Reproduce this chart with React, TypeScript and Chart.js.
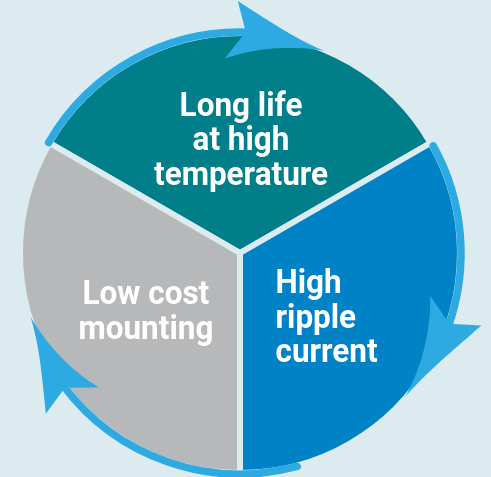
import { useEffect, useRef } from "react";
import { Chart, registerables } from "chart.js";

Chart.register(...registerables);

// ---- data ----
const categories: string[][] = [
  ["Long life", "at high", "temperature"],
  ["High", "ripple", "current"],
  ["Low cost", "mounting"],
];
const values: number[] = [1, 1, 1];
const sliceColors: string[] = ["#007e8a", "#0082c6", "#b7b8ba"];

// ---- styling ----
const BG = "#dcebef";
const RING = "#2eaae2";

// ring arcs (degrees clockwise from 12 o'clock): shaft start, arrow notch, arrow tip
const ringArcs = [
  { start: -60, notch: 1.5, tip: 22.6 },
  { start: 61, notch: 108.7, tip: 131 },
  { start: 165, notch: 232.4, tip: 253 },
];

// label blocks: polar anchor (deg clockwise from top, radius px), alignment
const labelPlacement = [
  { angle: 0.5, r: 114.5, align: "center" as const },
  { angle: 126, r: 107, align: "left" as const },
  { angle: 238.8, r: 110, align: "center" as const },
];

const toRad = (deg: number) => ((deg - 90) * Math.PI) / 180;

const decorPlugin = {
  id: "decor",
  afterDatasetsDraw(chart: any) {
    const meta = chart.getDatasetMeta(0);
    const arc0 = meta.data[0];
    if (!arc0) return;
    const cx = arc0.x;
    const cy = arc0.y;
    const R = 221;
    const ctx: CanvasRenderingContext2D = chart.ctx;
    const pt = (deg: number, r: number): [number, number] => [
      cx + r * Math.cos(toRad(deg)),
      cy + r * Math.sin(toRad(deg)),
    ];

    ctx.save();
    // ring shafts + arrowheads
    for (const a of ringArcs) {
      ctx.beginPath();
      ctx.strokeStyle = RING;
      ctx.lineWidth = 7.5;
      ctx.lineCap = "round";
      ctx.arc(cx, cy, R, toRad(a.start), toRad(a.notch + 1));
      ctx.stroke();

      const ob = a.notch - 2;
      const ib = a.notch - 6;
      const rOut = R + 31;
      const rIn = R - 26;
      const rTip = R - 2;
      ctx.beginPath();
      ctx.fillStyle = RING;
      let p = pt(ob, rOut);
      ctx.moveTo(p[0], p[1]);
      const N = 30;
      for (let i = 1; i <= N; i++) {
        const t = i / N;
        const th = ob + (a.tip - ob) * t;
        const r = rTip + (rOut - rTip) * (1 - t) * (1 - t);
        p = pt(th, r);
        ctx.lineTo(p[0], p[1]);
      }
      for (let i = N; i >= 0; i--) {
        const t = i / N;
        const th = ib + (a.tip - ib) * t;
        const r = rIn + (rTip - rIn) * t;
        p = pt(th, r);
        ctx.lineTo(p[0], p[1]);
      }
      p = pt(a.notch, R);
      ctx.lineTo(p[0], p[1]);
      ctx.closePath();
      ctx.fill();
    }

    // labels
    const fontSize = 33;
    ctx.font = `700 ${fontSize}px Roboto, 'Liberation Sans', sans-serif`;
    const refW = ctx.measureText("temperature").width;
    const sx = 174 / refW;
    const lineH = 34.5;
    ctx.fillStyle = "#ffffff";
    ctx.textBaseline = "alphabetic";
    const capOff = fontSize * 0.711 / 2;
    categories.forEach((lines, i) => {
      const pl = labelPlacement[i];
      const [px, py] = pt(pl.angle, pl.r);
      const widths = lines.map((l) => ctx.measureText(l).width * sx);
      const maxW = Math.max(...widths);
      const y0 = py - ((lines.length - 1) * lineH) / 2;
      lines.forEach((l, j) => {
        const w = widths[j];
        const x = pl.align === "center" ? px - w / 2 : px - maxW / 2;
        ctx.save();
        ctx.translate(x, y0 + j * lineH + capOff);
        ctx.scale(sx, 1);
        ctx.textAlign = "left";
        ctx.fillText(l, 0, 0);
        ctx.restore();
      });
    });
    ctx.restore();
  },
};

export default function App() {
  const ref = useRef<HTMLCanvasElement | null>(null);
  useEffect(() => {
    document.body.style.margin = "0";
    document.body.style.background = BG;
    if (!ref.current) return;
    const chart = new Chart(ref.current, {
      type: "pie",
      data: {
        labels: categories.map((c) => c.join(" ")),
        datasets: [
          {
            data: values,
            backgroundColor: sliceColors,
            borderColor: BG,
            borderWidth: 6,
          },
        ],
      },
      options: {
        animation: false,
        responsive: false,
        events: [],
        rotation: -60,
        radius: 220,
        layout: { padding: { left: 0, right: 11, top: 29, bottom: 0 } },
        plugins: {
          legend: { display: false },
          tooltip: { enabled: false },
        },
      },
      plugins: [decorPlugin],
    });
    return () => chart.destroy();
  }, []);
  return (
    <div style={{ width: 491, height: 477, background: BG, position: "relative" }}>
      <canvas ref={ref} width={491} height={477} style={{ display: "block" }} />
    </div>
  );
}
